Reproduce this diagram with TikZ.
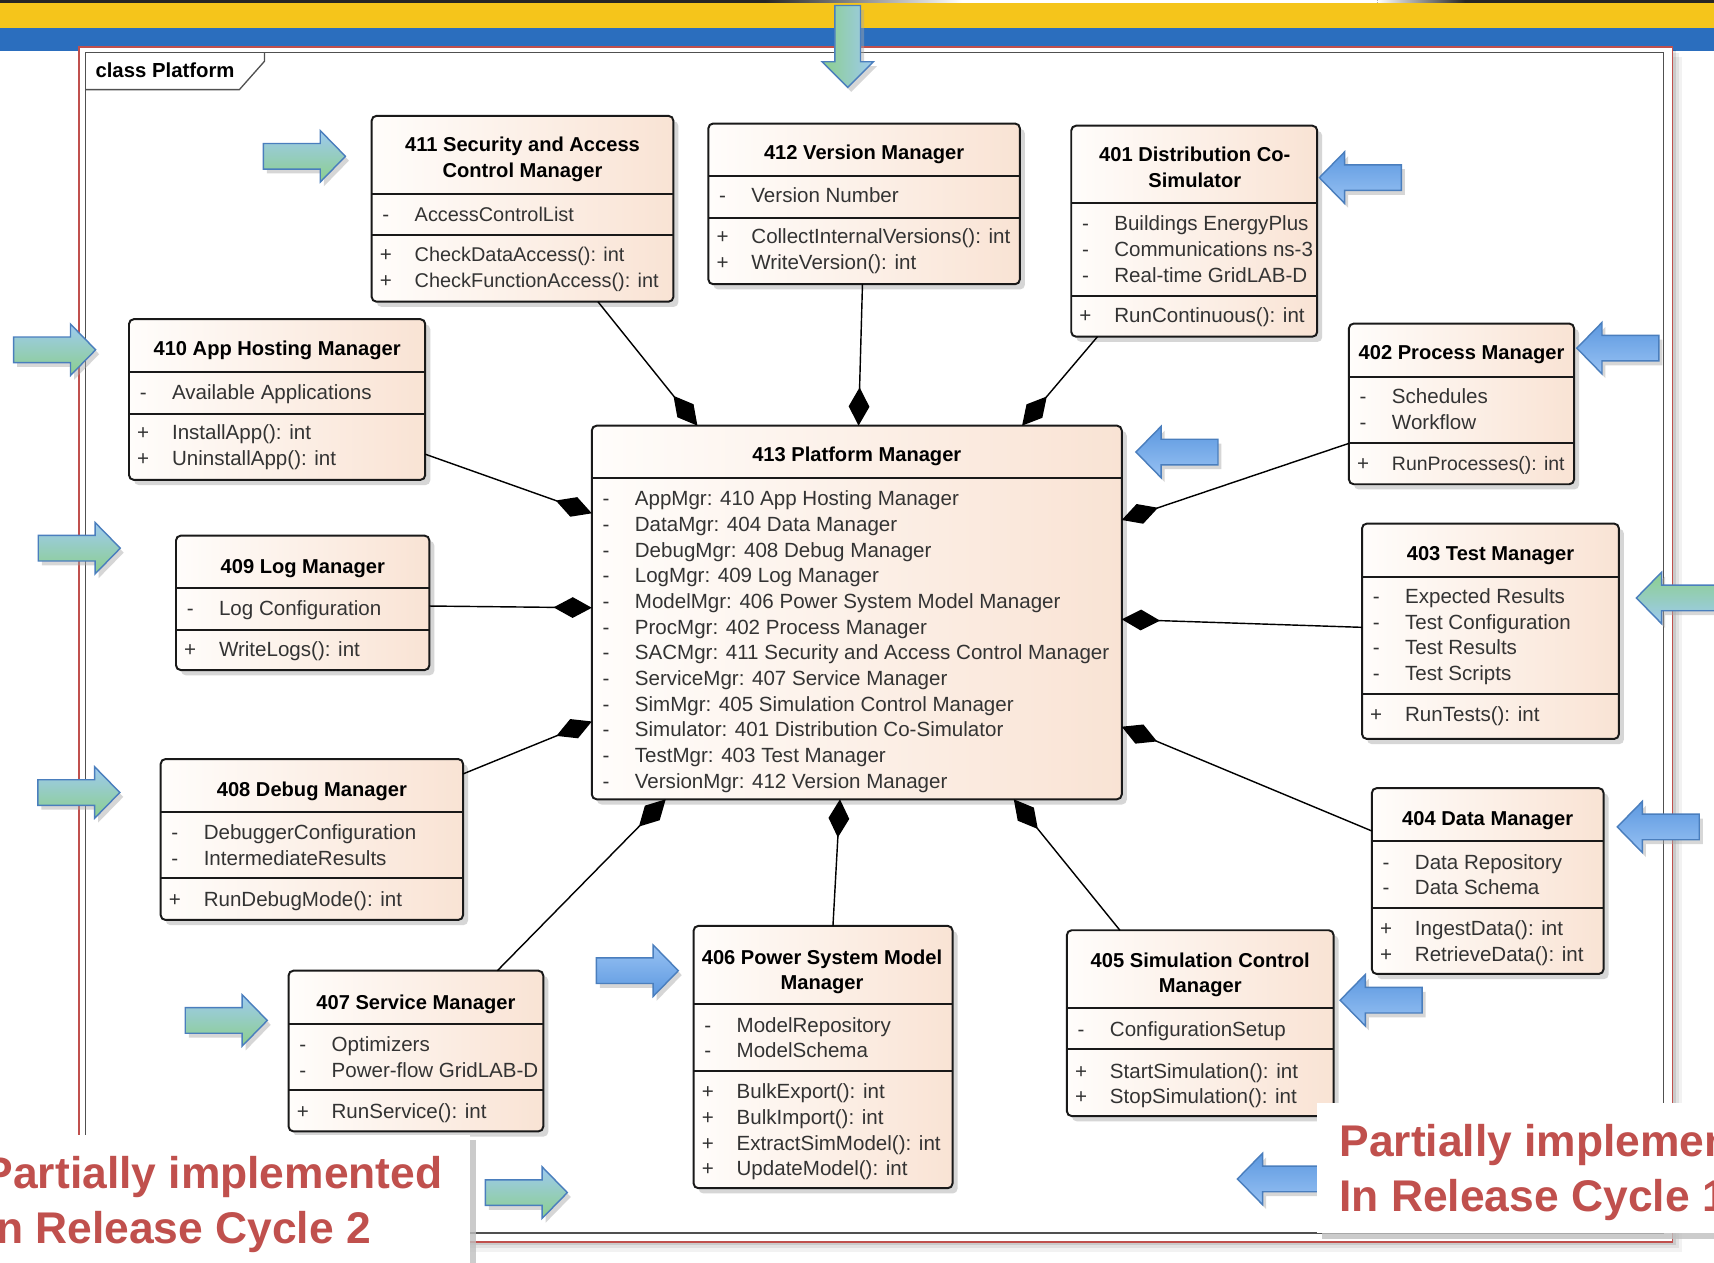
\documentclass[tikz,border=0pt]{standalone}
\usepackage{fontspec}
\setmainfont{Liberation Sans}
\usetikzlibrary{arrows.meta,calc,shadows}

\definecolor{bannerYellow}{RGB}{245,197,27}
\definecolor{bannerBlue}{RGB}{43,110,190}
\definecolor{frameRed}{RGB}{192,80,77}
\definecolor{frameGray}{RGB}{80,80,80}
\definecolor{boxLeft}{RGB}{255,253,251}
\definecolor{boxRight}{RGB}{249,227,212}
\definecolor{memberGray}{RGB}{51,51,51}
\definecolor{arrBlue}{RGB}{158,202,240}
\definecolor{arrGreen}{RGB}{140,207,140}
\definecolor{arrDark}{RGB}{92,152,224}
\definecolor{arrLight}{RGB}{152,194,243}
\definecolor{arrEdge}{RGB}{74,126,189}
\definecolor{noteRed}{RGB}{192,80,77}

\tikzset{
  classbox/.style={draw=black!90, line width=0.9pt, rounded corners=2.2pt,
    left color=boxLeft, right color=boxRight, inner sep=0pt, outer sep=0pt,
    drop shadow={shadow xshift=2.3pt, shadow yshift=-2.4pt, fill=black!16, opacity=1}},
  divider/.style={draw=black!90, line width=0.9pt},
  ctitle/.style={font=\bfseries\fontsize{9.2}{11}\selectfont, inner sep=0pt,
    text height=7.2pt, text depth=0pt},
  mt/.style={anchor=west, font=\fontsize{9.4}{11}\selectfont, text=memberGray,
    inner sep=0pt, text height=7.2pt, text depth=0pt},
  mk/.style={font=\fontsize{9.4}{11}\selectfont, text=memberGray,
    inner sep=0pt, text height=7.2pt, text depth=0pt},
  comp/.style={draw=black, line width=0.65pt, -{Diamond[length=17.5pt, width=9.5pt]}},
  blockarrow/.style={draw=arrEdge, line width=0.65pt, line join=miter,
    drop shadow={shadow xshift=1.6pt, shadow yshift=-2pt, fill=black!35, opacity=0.45}},
  bgR/.style={blockarrow, top color=arrBlue, bottom color=arrGreen},
  bgL/.style={blockarrow, top color=arrGreen, bottom color=arrBlue},
  bgD/.style={blockarrow, left color=arrGreen, right color=arrBlue},
  blueR/.style={blockarrow, top color=arrLight, bottom color=arrDark},
  blueL/.style={blockarrow, top color=arrDark, bottom color=arrLight},
  notebox/.style={fill=white, draw=none, inner sep=0pt, outer sep=0pt,
    drop shadow={shadow xshift=2.5pt, shadow yshift=-2.5pt, fill=black!25, opacity=0.8}},
  notetext/.style={font=\bfseries\fontsize{20.3}{24}\selectfont, text=noteRed,
    inner sep=0pt, anchor=base west},
  pics/arrowR/.style={code={\path[#1] (0,0) -- (-23,-23.5) -- (-23,-11.7) -- (-75,-11.7)
      -- (-75,11.7) -- (-23,11.7) -- (-23,23.5) -- cycle;}},
  pics/arrowL/.style={code={\path[#1] (0,0) -- (23,-23.5) -- (23,-11.7) -- (75,-11.7)
      -- (75,11.7) -- (23,11.7) -- (23,23.5) -- cycle;}},
  pics/arrowD/.style={code={\path[#1] (0,0) -- (-23.5,-23.5) -- (-11.7,-23.5) -- (-11.7,-75)
      -- (11.7,-75) -- (11.7,-23.5) -- (23.5,-23.5) -- cycle;}},
}

% tighter setting for a few long member rows
\newcommand\narrow[1]{{\fontsize{8.9}{11}\selectfont #1}}
\newcommand\slightly[1]{{\fontsize{9.1}{11}\selectfont #1}}

% class box: name, left, top, right, bottom
\newcommand\umlclass[5]{%
  \node[classbox, minimum width={(#4-#2)*0.5pt}, minimum height={(#5-#3)*0.5pt}]
    (#1) at ({(#2+#4)/2},{(#3+#5)/2}) {};}
% compartment line: node, offset from the top edge
\newcommand\divline[2]{%
  \draw[divider] ($(#1.north west)+(0,#2)$) -- ($(#1.north east)+(0,#2)$);}
% member rows: name prefix, box left, first row y, list of marker/text
\newcommand\members[4]{%
  \foreach \mrk/\lbl [count=\idx] in {#4} {%
    \node[mk] (#1m\idx) at ({#2+13},{#3+23.5*(\idx-1)}) {\mrk};
    \node[mt] (#1t\idx) at ({#2+39},{#3+23.5*(\idx-1)}) {\lbl};
  }}

\begin{document}
\begin{tikzpicture}[x=0.5pt, y=-0.5pt]
\useasboundingbox (0,0) rectangle (1568,1155);
\clip (0,0) rectangle (1568,1155);

% ---- title banner ----
\fill[bannerYellow] (0,0) rectangle (1568,26);
\fill[bannerBlue] (0,26) rectangle (1568,47);
\fill[black!85] (0,0) rectangle (1568,2.5);
\shade[left color=black!85, right color=white] (700,0) rectangle (880,2.5);
\fill[white] (880,0) rectangle (1260,2.5);
\shade[left color=white, right color=black!85] (1260,0) rectangle (1340,2.5);

% ---- diagram frame ----
\foreach \o/\a in {9/0.05, 6/0.07, 3/0.10}
  \fill[black, opacity=\a] (72+\o,42.7+\o) rectangle (1530+\o,1136+\o);
\draw[frameRed, line width=0.9pt, fill=white] (72,42.7) rectangle (1530,1136);
\draw[frameGray, line width=0.6pt] (78,47.8) rectangle (1522,1128);
\draw[frameGray, line width=0.6pt] (78,82) -- (219,82) -- (242,56) -- (242,47.8);
\node[font=\bfseries\fontsize{9.3}{11}\selectfont, anchor=west, inner sep=0pt,
  text height=7.2pt, text depth=0pt] (frametitle) at (87,64) {class Platform};

% ---- classes ----
\umlclass{c411}{340}{106}{616}{276}
\divline{c411}{71.5}\divline{c411}{109}
\node[ctitle] (c411h1) at (478,131) {411 Security and Access};
\node[ctitle] (c411h2) at (478,155) {Control Manager};
\members{c411a}{340}{195}{-/\slightly{AccessControlList}}
\members{c411o}{340}{232}{+/\slightly{CheckDataAccess(): int}, +/\slightly{CheckFunctionAccess(): int}}

\umlclass{c412}{648}{113}{933}{260}
\divline{c412}{48}\divline{c412}{86}
\node[ctitle] (c412h1) at (790.5,139) {412 Version Manager};
\members{c412a}{648}{178}{-/Version Number}
\members{c412o}{648}{216}{+/CollectInternalVersions(): int, +/WriteVersion(): int}

\umlclass{c401}{980}{115}{1205}{308}
\divline{c401}{71}\divline{c401}{155.5}
\node[ctitle] (c401h1) at (1093,141) {401 Distribution Co-};
\node[ctitle] (c401h2) at (1093,164) {Simulator};
\members{c401a}{980}{204}{-/Buildings EnergyPlus, -/Communications ns-3, -/Real-time GridLAB-D}
\members{c401o}{980}{288}{+/RunContinuous(): int}

\umlclass{c402}{1234}{296}{1440}{443}
\divline{c402}{48.6}\divline{c402}{109.6}
\node[ctitle] (c402h1) at (1337,322) {402 Process Manager};
\members{c402a}{1234}{362}{-/Schedules, -/Workflow}
\members{c402o}{1234}{423}{+/\narrow{RunProcesses(): int}}

\umlclass{c403}{1246}{479}{1481}{676}
\divline{c403}{48.6}\divline{c403}{156.2}
\node[ctitle] (c403h1) at (1363.5,506) {403 Test Manager};
\members{c403a}{1246}{545}{-/Expected Results, -/Test Configuration, -/Test Results, -/Test Scripts}
\members{c403o}{1246}{653}{+/RunTests(): int}

\umlclass{c404}{1255}{721}{1467}{891}
\divline{c404}{48.4}\divline{c404}{109.4}
\node[ctitle] (c404h1) at (1361,748) {404 Data Manager};
\members{c404a}{1255}{788}{-/Data Repository, -/Data Schema}
\members{c404o}{1255}{849}{+/IngestData(): int, +/RetrieveData(): int}

\umlclass{c405}{976}{851}{1220}{1021}
\divline{c405}{71.4}\divline{c405}{108.7}
\node[ctitle] (c405h1) at (1098,878) {405 Simulation Control};
\node[ctitle] (c405h2) at (1098,901) {Manager};
\members{c405a}{976}{941}{-/ConfigurationSetup}
\members{c405o}{976}{979}{+/StartSimulation(): int, +/StopSimulation(): int}

\umlclass{c406}{634.5}{847}{871.4}{1087}
\divline{c406}{71.5}\divline{c406}{132.8}
\node[ctitle] (c406h1) at (752,875) {406 Power System Model};
\node[ctitle] (c406h2) at (752,898) {Manager};
\members{c406a}{634.5}{937}{-/ModelRepository, -/ModelSchema}
\members{c406o}{634.5}{998}{+/BulkExport(): int, +/BulkImport(): int, +/ExtractSimModel(): int, +/UpdateModel(): int}

\umlclass{c407}{264}{888}{497}{1035}
\divline{c407}{48.8}\divline{c407}{109.2}
\node[ctitle] (c407h1) at (380.5,916) {407 Service Manager};
\members{c407a}{264}{955}{-/Optimizers, -/Power-flow GridLAB-D}
\members{c407o}{264}{1016}{+/RunService(): int}

\umlclass{c408}{147}{694.4}{423.6}{841.6}
\divline{c408}{48.2}\divline{c408}{109.1}
\node[ctitle] (c408h1) at (285.3,721) {408 Debug Manager};
\members{c408a}{147}{761}{-/DebuggerConfiguration, -/IntermediateResults}
\members{c408o}{147}{822}{+/RunDebugMode(): int}

\umlclass{c409}{161}{490}{392.8}{613}
\divline{c409}{48.2}\divline{c409}{86.3}
\node[ctitle] (c409h1) at (277,517) {409 Log Manager};
\members{c409a}{161}{556}{-/Log Configuration}
\members{c409o}{161}{593}{+/WriteLogs(): int}

\umlclass{c410}{118}{292}{389}{439}
\divline{c410}{48.6}\divline{c410}{86.7}
\node[ctitle] (c410h1) at (253.5,318) {410 App Hosting Manager};
\members{c410a}{118}{358}{-/Available Applications}
\members{c410o}{118}{395}{+/InstallApp(): int, +/UninstallApp(): int}

\umlclass{c413}{541.4}{389.4}{1026.2}{731.2}
\divline{c413}{48.2}
\node[ctitle] (c413h1) at (783.8,415) {413 Platform Manager};
\members{c413a}{541.4}{455.5}{-/AppMgr: 410 App Hosting Manager, -/DataMgr: 404 Data Manager,
  -/DebugMgr: 408 Debug Manager, -/LogMgr: 409 Log Manager,
  -/ModelMgr: 406 Power System Model Manager, -/ProcMgr: 402 Process Manager,
  -/SACMgr: 411 Security and Access Control Manager, -/ServiceMgr: 407 Service Manager,
  -/SimMgr: 405 Simulation Control Manager, -/Simulator: 401 Distribution Co-Simulator,
  -/TestMgr: 403 Test Manager, -/VersionMgr: 412 Version Manager}

% ---- composition links to the platform manager ----
\draw[comp] ($(c411.south west)+(207,0)$) -- ($(c413.north west)+(96.6,0)$);
\draw[comp] ($(c412.south west)+(141,0)$) -- ($(c413.north west)+(244,0)$);
\draw[comp] ($(c401.south west)+(24,0)$) -- ($(c413.north west)+(393.6,0)$);
\draw[comp] ($(c410.north east)+(0,123.5)$) -- ($(c413.north west)+(0,80.2)$);
\draw[comp] ($(c409.north east)+(0,64.4)$) -- ($(c413.north west)+(0,166.6)$);
\draw[comp] ($(c408.north east)+(0,13.6)$) -- ($(c413.north west)+(0,270.6)$);
\draw[comp] ($(c407.north west)+(191,0)$) -- ($(c413.south west)+(67.6,0)$);
\draw[comp] ($(c406.north west)+(127.5,0)$) -- ($(c413.south west)+(227,0)$);
\draw[comp] ($(c405.north west)+(48.5,0)$) -- ($(c413.south west)+(386,0)$);
\draw[comp] ($(c404.north west)+(0,39.2)$) -- ($(c413.north east)+(0,275.4)$);
\draw[comp] ($(c403.north west)+(0,94.9)$) -- ($(c413.north east)+(0,177.2)$);
\draw[comp] ($(c402.north west)+(0,109.6)$) -- ($(c413.north east)+(0,86.3)$);

% ---- block arrows ----
\pic at (775.5,80) {arrowD=bgD};
\pic at (316,143) {arrowR=bgR};
\pic at (87.5,320) {arrowR=bgR};
\pic at (110,501.5) {arrowR=bgR};
\pic at (109.6,725) {arrowR=bgR};
\pic at (244.5,933.5) {arrowR=bgR};
\pic at (519,1091) {arrowR=bgR};
\pic at (620.5,888) {arrowR=blueR};
\pic at (1207,162.5) {arrowL=blueL};
\pic at (1442.5,318.5) {arrowL=blueL};
\pic at (1039.2,413.5) {arrowL=blueL};
\pic at (1497,547) {arrowL=bgL};
\pic at (1479.5,756.5) {arrowL=blueL};
\pic at (1226,915) {arrowL=blueL};
\pic at (1132,1078.5) {arrowL=blueL};

% ---- release notes ----
\node[notebox, anchor=north west, minimum width={460*0.5pt}, minimum height={160*0.5pt}]
  (notebox2) at (-30,1038) {};
\node[notetext] (note2a) at (-15.3,1087) {Partially implemented};
\node[notetext] (note2b) at (-15.3,1137.4) {In Release Cycle 2};
\node[notebox, anchor=north west, minimum width={420*0.5pt}, minimum height={119.5*0.5pt}]
  (notebox1) at (1204.7,1008.8) {};
\node[notetext] (note1a) at (1225,1058.2) {Partially implemented};
\node[notetext] (note1b) at (1225,1108.5) {In Release Cycle 1};
\end{tikzpicture}
\end{document}
